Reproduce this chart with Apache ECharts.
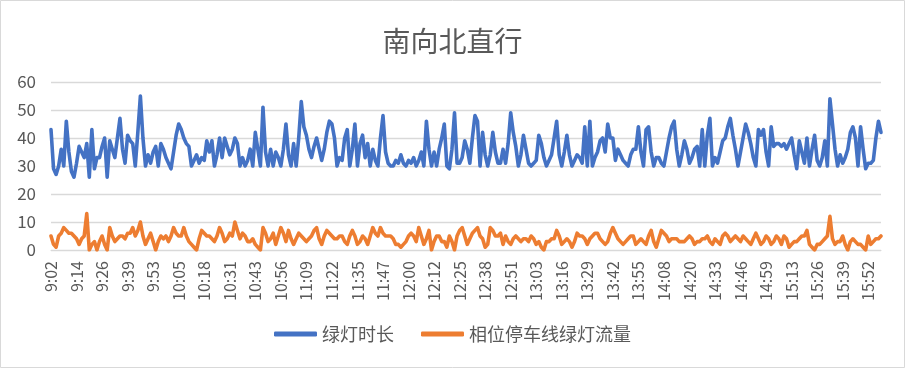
<!DOCTYPE html>
<html>
<head>
<meta charset="utf-8">
<script src="https://cdn.jsdelivr.net/npm/echarts@6/dist/echarts.min.js"></script>
<style>
html,body{margin:0;padding:0;background:#fff;}
#chart{width:905px;height:368px;}
</style>
</head>
<body>
<div id="chart"></div>
<script>
// Tick labels shown on the category axis (every 10th cycle)
var tickLabels = ["9:02","9:14","9:26","9:39","9:53","10:05","10:18","10:31","10:43","10:56","11:09","11:22","11:35","11:47","12:00","12:12","12:25","12:38","12:51","13:03","13:16","13:29","13:42","13:55","14:08","14:20","14:33","14:46","14:59","15:13","15:26","15:39","15:52"];

// 绿灯时长 (green time, s)
var greenTime = [
43,29,27,30,36,30,46,35,28,26,
31,37,35,33,38,26,43,29,33,33,
37,40,26,39,36,33,40,47,36,31,
41,39,38,30,42,55,40,30,34,31,
35,37,30,38,36,33,31,29,35,41,
45,43,40,38,37,30,32,34,31,33,
32,39,35,39,30,34,40,33,40,37,
34,36,40,38,30,33,30,32,36,30,
42,36,30,51,35,30,36,30,35,33,
30,36,45,34,30,38,30,40,53,44,
41,36,33,37,40,36,32,36,42,46,
45,40,30,33,32,40,43,30,36,45,
30,38,41,33,38,30,36,32,30,40,
48,35,31,30,30,32,31,34,31,30,
32,31,33,30,32,35,30,46,36,30,
35,30,36,40,45,30,29,36,49,31,
31,33,39,36,31,40,48,46,30,42,
34,30,34,42,35,31,31,36,31,38,
49,42,37,30,34,41,36,31,30,31,
32,41,38,33,30,32,34,40,46,34,
30,35,41,34,30,32,34,33,31,44,
30,46,30,33,35,39,40,35,45,40,
40,32,36,34,32,31,30,34,36,36,
44,35,30,43,44,35,30,33,33,31,
30,35,40,44,46,36,30,34,39,36,
31,33,36,37,30,43,30,41,47,30,
33,31,35,39,40,44,47,41,36,30,
35,40,45,42,38,33,30,43,41,43,
35,30,44,37,38,38,37,38,36,38,
40,34,29,39,35,31,40,30,36,41,
32,30,33,39,30,54,45,36,30,34,
31,33,36,42,44,40,30,44,36,29,
31,31,32,40,46,42
];

// 相位停车线绿灯流量 (stop-line green flow, veh)
var greenFlow = [
5,2,1,5,6,8,7,6,6,5,
4,2,4,5,13,0,2,3,0,3,
5,2,0,8,5,3,4,5,5,4,
6,6,8,5,7,10,5,2,4,6,
3,0,3,5,4,5,3,5,8,6,
5,5,8,5,3,2,1,0,4,7,
6,5,5,4,3,5,8,6,3,4,
6,5,10,7,4,6,5,3,3,4,
2,1,0,8,6,3,4,6,2,5,
8,6,3,7,4,2,4,6,5,4,
3,4,5,7,8,4,2,5,7,6,
5,4,4,5,5,3,2,5,7,5,
2,3,5,4,2,5,8,6,5,8,
6,5,5,5,4,2,2,1,2,3,
5,6,5,3,8,5,2,4,7,0,
3,5,5,3,3,1,5,3,0,5,
7,8,5,2,4,6,7,8,5,4,
1,2,8,7,5,5,6,2,5,3,
2,4,5,4,3,4,4,3,5,4,
2,3,1,0,3,3,4,4,7,5,
2,3,4,3,1,3,6,5,5,4,
2,4,5,6,6,4,3,2,3,6,
8,6,4,3,2,3,4,5,5,2,
3,4,3,2,5,7,3,1,4,7,
6,5,3,4,4,4,3,3,3,4,
5,4,2,3,3,4,4,5,3,2,
4,3,2,5,6,5,3,4,5,4,
3,5,4,3,2,4,6,4,2,3,
5,4,2,3,5,4,2,5,4,1,
2,3,3,4,5,5,7,2,1,0,
2,2,3,4,5,12,4,2,3,3,
5,2,0,3,4,3,2,2,1,0,
5,2,3,4,4,5
];

var seriesNames = ["绿灯时长", "相位停车线绿灯流量"];
var titleText = "南向北直行";

// Build category labels: every 10th category is a tick label; in-between cycles get intermediate times
function toMin(s){var p=s.split(":");return (+p[0])*60+(+p[1]);}
function toStr(m){m=Math.round(m);var h=Math.floor(m/60),mm=m%60;return h+":"+(mm<10?"0":"")+mm;}
var categories = [];
for (var i = 0; i < greenTime.length; i++) {
  var k = Math.floor(i / 10), r = i % 10;
  if (r === 0 && k < tickLabels.length) { categories.push(tickLabels[k]); continue; }
  var a = toMin(tickLabels[Math.min(k, tickLabels.length - 1)]);
  var b = k + 1 < tickLabels.length ? toMin(tickLabels[k + 1]) : a + 13;
  categories.push(toStr(a + (b - a) * r / 10) + "");
}

var FONT = "'Noto Sans CJK SC', 'Noto Sans', sans-serif";
var chart = echarts.init(document.getElementById('chart'), null, {renderer: 'canvas'});
chart.setOption({
  backgroundColor: '#ffffff',
  animation: false,
  graphic: [{
    type: 'rect', silent: true,
    shape: {x: 0.5, y: 0.5, width: 904, height: 367},
    style: {fill: 'none', stroke: '#D9D9D9', lineWidth: 1}
  }],
  title: {
    text: titleText, left: 'center', top: 22,
    textStyle: {fontFamily: FONT, fontSize: 28, fontWeight: 'normal', color: '#595959'}
  },
  legend: {
    bottom: 20, left: 'center',
    itemWidth: 43, itemHeight: 5, itemGap: 27,
    icon: 'roundRect',
    textStyle: {fontFamily: FONT, fontSize: 18, color: '#595959'},
    data: seriesNames
  },
  grid: {left: 51, right: 24, top: 82, bottom: 118, containLabel: false},
  xAxis: {
    type: 'category', data: categories, boundaryGap: false,
    axisLine: {lineStyle: {color: '#D9D9D9', width: 1}},
    axisTick: {show: false},
    axisLabel: {interval: 9, rotate: 90, margin: 11, fontFamily: FONT, fontSize: 16, color: '#595959'},
    splitLine: {show: false}
  },
  yAxis: {
    type: 'value', min: 0, max: 60, interval: 10,
    axisLine: {show: false}, axisTick: {show: false},
    axisLabel: {margin: 15, fontFamily: FONT, fontSize: 17, color: '#595959'},
    splitLine: {lineStyle: {color: '#D9D9D9', width: 1.3}}
  },
  series: [
    {name: seriesNames[0], type: 'line', data: greenTime, symbol: 'none', color: '#4472C4',
     lineStyle: {width: 3.6, color: '#4472C4', join: 'round', cap: 'round'}},
    {name: seriesNames[1], type: 'line', data: greenFlow, symbol: 'none', color: '#ED7D31',
     lineStyle: {width: 3.6, color: '#ED7D31', join: 'round', cap: 'round'}}
  ]
});
</script>
</body>
</html>
